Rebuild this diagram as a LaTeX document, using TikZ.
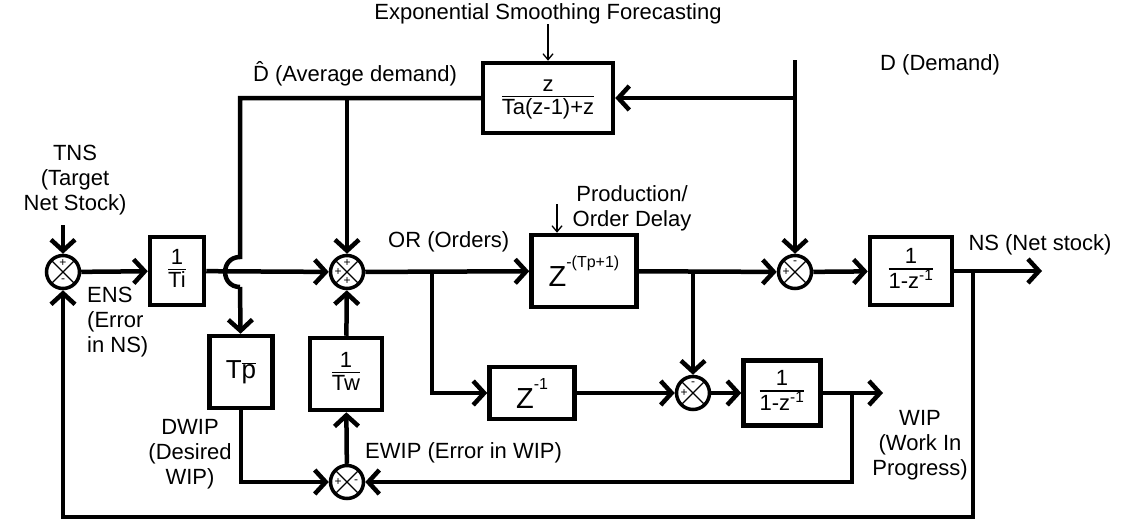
\documentclass[tikz,border=0pt]{standalone}
\usepackage{fontspec}
\setmainfont{Liberation Sans}
\usetikzlibrary{arrows.meta}

\setlength{\arrayrulewidth}{1.6pt}
\newcommand{\frc}[2]{\begin{tabular}{@{}c@{}}#1\\[-3pt]\hline#2\end{tabular}}
\newcommand{\zpow}[2]{{\fontsize{29}{29}\selectfont #1}\raisebox{19pt}{\fontsize{16}{16}\selectfont #2}}

\begin{document}
\begin{tikzpicture}[
  x=1pt,y=-1pt,
  font=\fontsize{22}{25}\selectfont,
  block/.style={draw,line width=4.5pt,inner sep=0pt,align=center},
  sumj/.style={draw,circle,line width=3.5pt,minimum size=33pt,inner sep=0pt,
    path picture={\draw[line width=1.2pt]
      (path picture bounding box.south west) -- (path picture bounding box.north east)
      (path picture bounding box.north west) -- (path picture bounding box.south east);}},
  sgn/.style={inner sep=0pt,font=\fontsize{12}{12}\selectfont},
  lbl/.style={inner sep=0pt,align=center},
  wire/.style={line width=4.5pt},
  sig/.style={line width=4.5pt,-{Straight Barb[length=11pt,width=24pt]}},
  note/.style={line width=1.3pt,-{Straight Barb[length=6pt,width=10pt]}},
  ]
  \useasboundingbox (0,0) rectangle (1124,520);

  % summing junctions
  \node[sumj] (s1) at (63,272) {};
  \node[sumj] (s2) at (347,272) {};
  \node[sumj] (s3) at (795,272) {};
  \node[sumj] (s4) at (693,393) {};
  \node[sumj] (s5) at (347,482) {};
  \path (s1) ++(0,-9) node[sgn]{+} (s1) ++(0,9) node[sgn]{-};
  \path (s2) ++(0,-9) node[sgn]{+} (s2) ++(-9,0) node[sgn]{+} (s2) ++(0,9) node[sgn]{+};
  \path (s3) ++(0,-9) node[sgn]{-} (s3) ++(-9,0) node[sgn]{+};
  \path (s4) ++(0,-9) node[sgn]{-} (s4) ++(-9,0) node[sgn]{+};
  \path (s5) ++(-9,0) node[sgn]{+} (s5) ++(9,0) node[sgn]{-};

  % blocks
  \node[block,minimum width=54pt,minimum height=68pt] (ti) at (177,271) {\frc{1}{Ti}};
  \node[block,minimum width=130pt,minimum height=70pt] (es) at (548,98) {\frc{z}{Ta(z-1)+z}};
  \node[block,minimum width=105pt,minimum height=72pt] (zp) at (584,271) {\zpow{Z}{-(Tp+1)}};
  \node[block,minimum width=82pt,minimum height=68pt] (ns) at (911,271) {\frc{1}{1-z\textsuperscript{-1}}};
  \node[block,minimum width=63pt,minimum height=72pt,font=\fontsize{26}{26}\selectfont] (tp) at (241,372) {T$\overline{\mbox{p}}$};
  \node[block,minimum width=72pt,minimum height=72pt] (tw) at (346,374) {\frc{1}{Tw}};
  \node[block,minimum width=85pt,minimum height=52pt] (z1) at (532,393) {\zpow{Z}{-1}};
  \node[block,minimum width=77pt,minimum height=65pt] (wip) at (782,393) {\frc{1}{1-z\textsuperscript{-1}}};

  % branch points and free ends
  \coordinate (tns) at (63,225);
  \coordinate (dtop) at (795,60);
  \coordinate (dd) at (795,98);
  \coordinate (dh) at (240,98);
  \coordinate (db) at (347,98);
  \coordinate (orb) at (432,272);
  \coordinate (zb) at (693,271);
  \coordinate (nsb) at (973,271);
  \coordinate (nsout) at (1042,271);
  \coordinate (fb) at (63,517);
  \coordinate (wb) at (852,393);
  \coordinate (wout) at (883,393);

  % signals
  \draw[sig] (tns) -- (s1);
  \draw[sig] (s1) -- (ti);
  \draw[sig] (ti) -- (s2);
  \draw[sig] (s2) -- (zp);
  \draw[sig] (zp) -- (s3);
  \draw[sig] (s3) -- (ns);
  \draw[sig] (ns) -- (nsout);
  \draw[sig] (dtop) -- (s3);
  \draw[sig] (dd) -- (es);
  \draw[wire] (es) -- (dh) -- (240,257) to[out=180,in=180,looseness=1.7] (240,287);
  \draw[sig] (240,287) -- (tp);
  \draw[sig] (db) -- (s2);
  \draw[sig] (nsb) |- (fb) -- (s1);
  \draw[sig] (orb) |- (z1);
  \draw[sig] (z1) -- (s4);
  \draw[sig] (zb) -- (s4);
  \draw[sig] (s4) -- (wip);
  \draw[sig] (wip) -- (wout);
  \draw[sig] (wb) |- (s5);
  \draw[sig] (tp) |- (s5);
  \draw[sig] (s5) -- (tw);
  \draw[sig] (tw) -- (s2);

  % labels
  \node[lbl] (estitle) at (548,14) {Exponential Smoothing Forecasting};
  \draw[note] (estitle) -- (es);
  \node[lbl] (pd) at (632,208) {Production/\\Order Delay};
  \coordinate (pdt) at (557,204);
  \draw[note] (pdt) -- (pdt |- zp.north);
  \node[lbl] (tnsl) at (75,180) {TNS\\(Target\\Net Stock)};
  \node[lbl,anchor=west,align=left] (ensl) at (87,322) {ENS\\(Error\\in NS)};
  \node[lbl] (dhl) at (355,74) {\^{D} (Average demand)};
  \node[lbl,anchor=west] (orl) at (388,242) {OR (Orders)};
  \node[lbl] (nsl) at (1040,245) {NS (Net stock)};
  \node[lbl,anchor=west] (dl) at (880,65) {D (Demand)};
  \node[lbl] (dwl) at (190,454) {DWIP\\(Desired\\WIP)};
  \node[lbl,anchor=west] (ewl) at (365,453) {EWIP (Error in WIP)};
  \node[lbl] (wipl) at (920,445) {WIP\\(Work In\\Progress)};
\end{tikzpicture}
\end{document}
